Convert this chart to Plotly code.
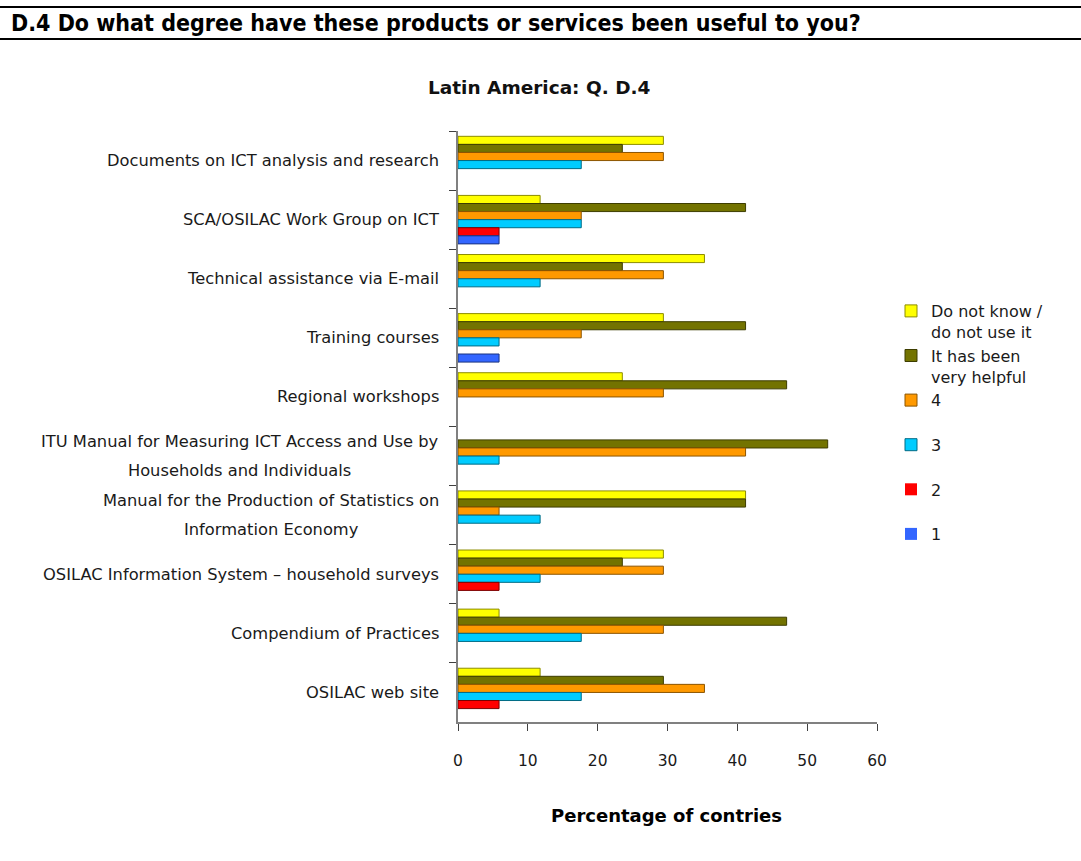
import plotly.graph_objects as go

# Products / services (top to bottom)
categories = [
    "Documents on ICT analysis and research",
    "SCA/OSILAC Work Group on ICT",
    "Technical assistance via E-mail",
    "Training courses",
    "Regional workshops",
    "ITU Manual for Measuring ICT Access and Use by<br>Households and Individuals",
    "Manual for the Production of Statistics on<br>Information Economy",
    "OSILAC Information System \u2013 household surveys",
    "Compendium of Practices",
    "OSILAC web site",
]

# Percentage of countries per answer
do_not_know = [29.41, 11.76, 35.29, 29.41, 23.53, 0.0, 41.18, 29.41, 5.88, 11.76]
very_helpful = [23.53, 41.18, 23.53, 41.18, 47.06, 52.94, 41.18, 23.53, 47.06, 29.41]
level_4 = [29.41, 17.65, 29.41, 17.65, 29.41, 41.18, 5.88, 29.41, 29.41, 35.29]
level_3 = [17.65, 17.65, 11.76, 5.88, 0.0, 5.88, 11.76, 11.76, 17.65, 17.65]
level_2 = [0.0, 5.88, 0.0, 0.0, 0.0, 0.0, 0.0, 5.88, 0.0, 5.88]
level_1 = [0.0, 5.88, 0.0, 5.88, 0.0, 0.0, 0.0, 0.0, 0.0, 0.0]

series_names = [
    "Do not know /<br>do not use it",
    "It has been<br>very helpful",
    "4<br>\u00a0",
    "3<br>\u00a0",
    "2<br>\u00a0",
    "1<br>\u00a0",
]
series_values = [do_not_know, very_helpful, level_4, level_3, level_2, level_1]
fill_colors = ["#FFFF00", "#737300", "#FF9900", "#00CCFF", "#FF0000", "#3366FF"]
edge_colors = ["#8C8C00", "#3D3D00", "#8C5400", "#006B85", "#7A0000", "#1A3380"]

x_ticks = [0, 10, 20, 30, 40, 50, 60]

fig = go.Figure()
for name, vals, fc, ec in zip(series_names, series_values, fill_colors, edge_colors):
    # no outline on empty bars so nothing shows at zero
    widths = [1 if v > 0 else 0 for v in vals]
    fig.add_trace(go.Bar(
        y=categories, x=vals, name=name, orientation="h",
        marker=dict(color=fc, line=dict(color=ec, width=widths)),
    ))

W, H = 1081, 861
L, R, T, B = 458, 204, 131, 139
pw, ph = W - L - R, H - T - B


def px_x(p):
    return (p - L) / pw


def px_y(p):
    return (H - B - p) / ph


label_font = "DejaVu Sans"
label_size = 16.3
annotations = []
for cat in categories:
    if "<br>" in cat:
        parts = cat.split("<br>")
        text = "<br>".join(f"<span style='font-size:{label_size}px'>{p}</span>" for p in parts)
        annotations.append(dict(
            x=0, xref="paper", y=cat, yref="y", text=text, showarrow=False,
            xanchor="right", yanchor="middle", align="center", xshift=-17,
            font=dict(family=label_font, size=22, color="#1a1a1a"),
        ))
    else:
        annotations.append(dict(
            x=0, xref="paper", y=cat, yref="y", text=cat, showarrow=False,
            xanchor="right", yanchor="middle", align="right", xshift=-17,
            font=dict(family=label_font, size=label_size, color="#1a1a1a"),
        ))

# Page header
annotations.append(dict(
    x=px_x(9), xref="paper", y=px_y(23), yref="paper",
    text="<b>D.4 Do what degree have these products or services been useful to you?</b>",
    showarrow=False, xanchor="left", yanchor="middle",
    font=dict(family="DejaVu Sans Condensed, Liberation Sans", size=23, color="#000000"),
))
# Chart title
annotations.append(dict(
    x=px_x(539), xref="paper", y=px_y(87), yref="paper",
    text="<b>Latin America: Q. D.4</b>", showarrow=False, xanchor="center", yanchor="middle",
    font=dict(family="DejaVu Sans", size=18.5, color="#111111"),
))
# X axis title
annotations.append(dict(
    x=px_x(666), xref="paper", y=px_y(815), yref="paper",
    text="<b>Percentage of contries</b>", showarrow=False, xanchor="center", yanchor="middle",
    font=dict(family="DejaVu Sans", size=18, color="#000000"),
))

shapes = [
    dict(type="line", xref="paper", yref="paper", x0=px_x(0), x1=px_x(W),
         y0=px_y(7), y1=px_y(7), line=dict(color="#000000", width=2)),
    dict(type="line", xref="paper", yref="paper", x0=px_x(0), x1=px_x(W),
         y0=px_y(39), y1=px_y(39), line=dict(color="#000000", width=2)),
]

fig.update_layout(
    width=W, height=H,
    margin=dict(l=L, r=R, t=T, b=B, autoexpand=False),
    paper_bgcolor="#ffffff", plot_bgcolor="#ffffff",
    barmode="group", bargap=0.18, bargroupgap=0,
    showlegend=True,
    legend=dict(
        x=px_x(891), xanchor="left", y=px_y(294), yanchor="top",
        font=dict(family=label_font, size=16, color="#1a1a1a"),
        traceorder="normal", valign="top", bgcolor="rgba(0,0,0,0)",
    ),
    xaxis=dict(
        range=[0, 60], tickvals=x_ticks, ticktext=[str(v) for v in x_ticks],
        showgrid=False, zeroline=False, showline=True, linecolor="#808080", linewidth=2,
        ticks="outside", ticklen=7, tickcolor="#404040", tickwidth=1,
        ticklabelstandoff=16,
        tickfont=dict(family=label_font, size=15.5, color="#1a1a1a"),
    ),
    yaxis=dict(
        autorange="reversed", showgrid=False, zeroline=False,
        showline=True, linecolor="#808080", linewidth=2,
        ticks="outside", tickson="boundaries", ticklen=7, tickcolor="#404040", tickwidth=1,
        showticklabels=False,
    ),
    annotations=annotations,
    shapes=shapes,
)

fig.write_html("out.html")
